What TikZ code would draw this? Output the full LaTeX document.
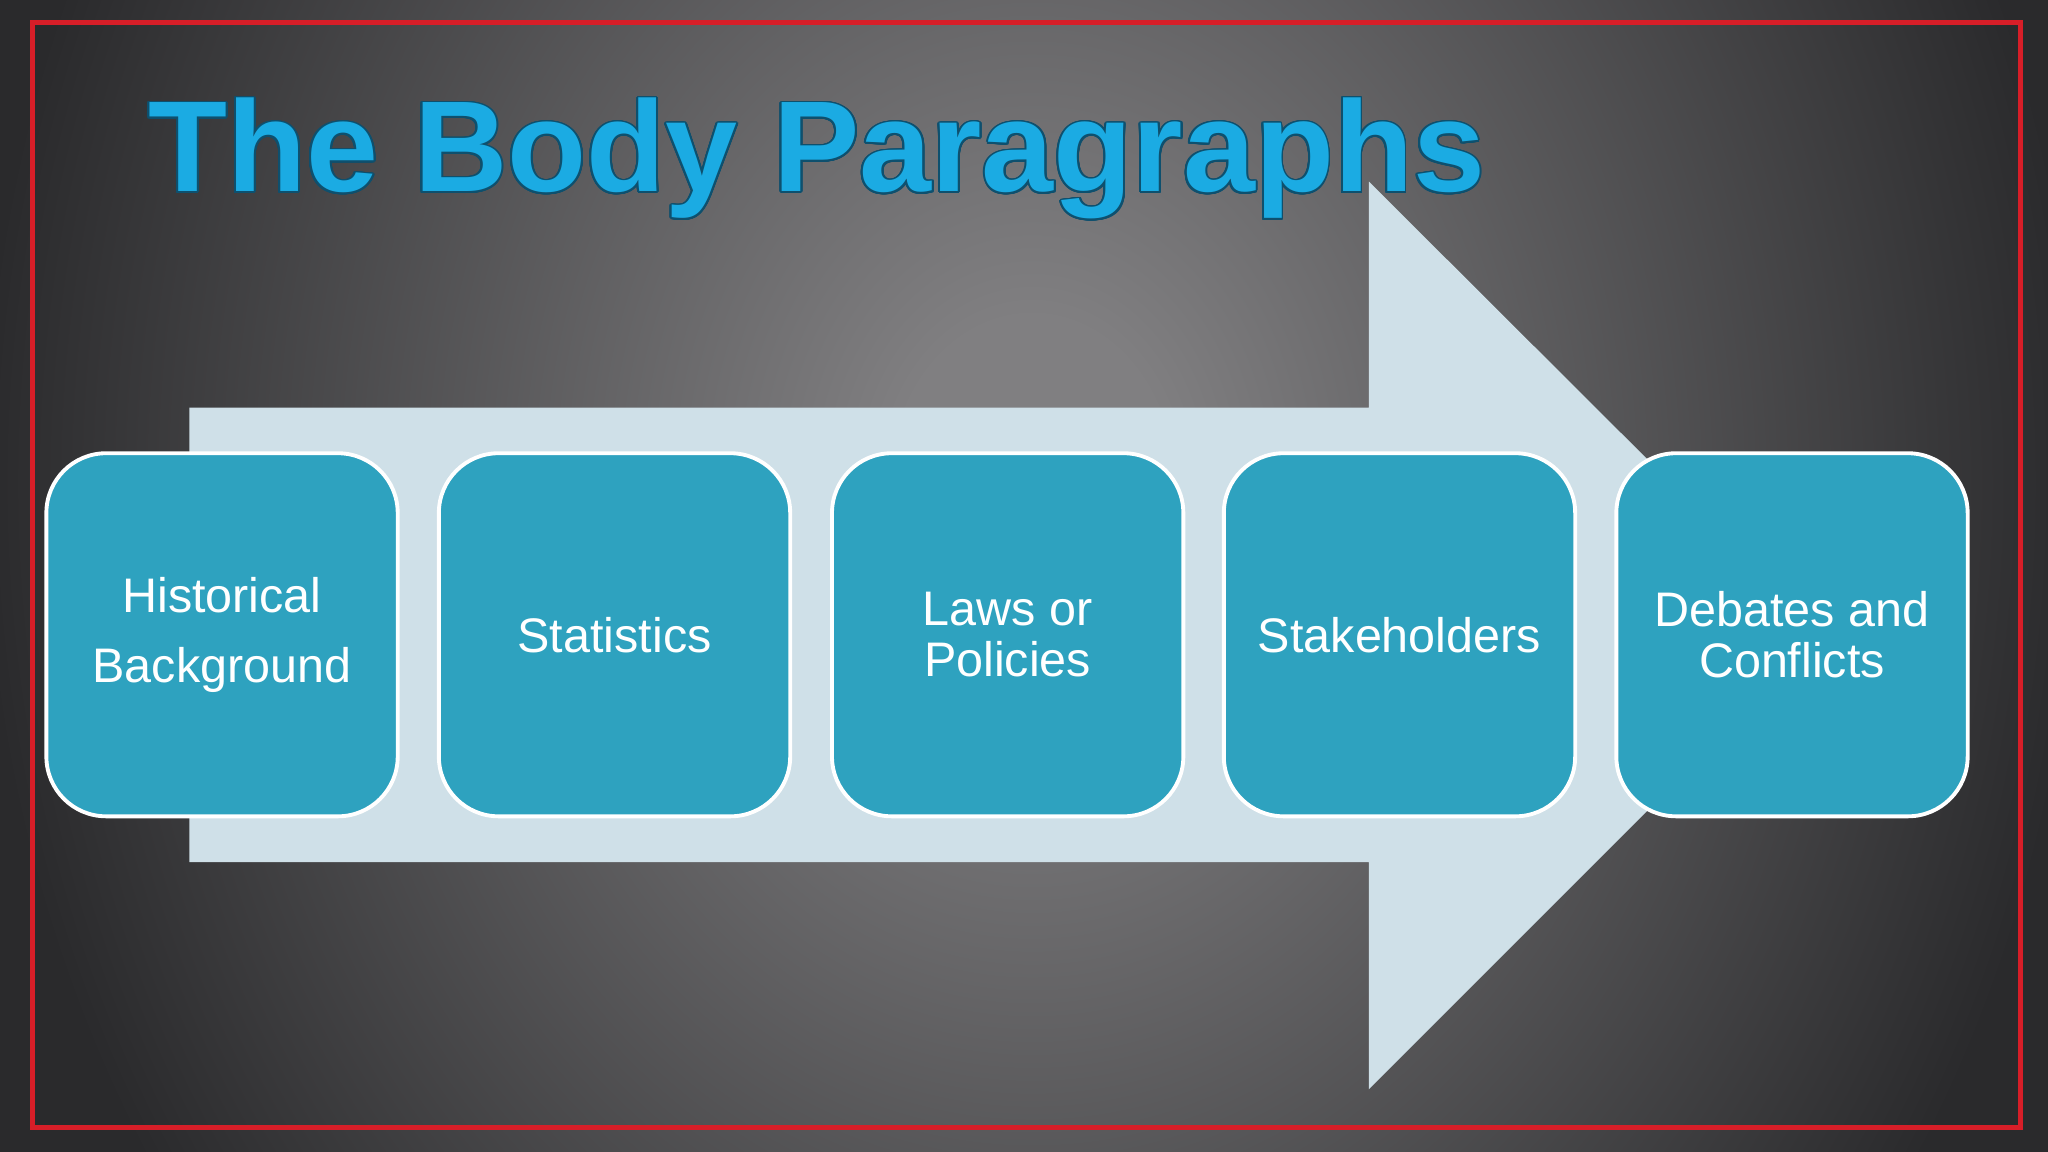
\documentclass[tikz,border=0pt]{standalone}
\usepackage{fontspec}
\setmainfont{Liberation Sans}
\usepackage[copies]{contour}
\contourlength{0.55pt}
\contournumber{24}
\definecolor{bgin}{RGB}{128,127,129}
\definecolor{bgout}{RGB}{42,42,44}
\definecolor{arrowc}{RGB}{207,224,232}
\definecolor{boxc}{RGB}{46,162,191}
\definecolor{titleblue}{RGB}{27,171,227}
\definecolor{titleedge}{RGB}{14,80,110}
\definecolor{framered}{RGB}{215,30,40}
\pgfdeclareradialshading{bgshade}{\pgfpoint{0bp}{0bp}}{color(0bp)=(bgin); color(3bp)=(bgin); color(23bp)=(bgout); color(50bp)=(bgout)}
\tikzset{
  itembox/.style={draw=white, line width=1.1pt, fill=boxc, rounded corners=17pt,
    minimum width=269*0.13061mm, minimum height=278*0.13061mm, inner sep=0pt,
    text=white, align=center, font=\fontsize{13.8}{14.6}\selectfont},
}
\begin{document}
\begin{tikzpicture}[x=0.013061cm, y=-0.013061cm]
\useasboundingbox (0,0) rectangle (1568,882);
\fill[bgout] (0,0) rectangle (1568,882);
\begin{scope}
  \clip (0,0) rectangle (1568,882);
  \shade[shading=bgshade] (790,370) ellipse (875 and 1050);
\end{scope}
\draw[framered, line width=1.4pt] (25,17) rectangle (1547,863);
% big arrow
\fill[arrowc] (145,312) -- (1048,312) -- (1048,139) -- (1396,486) -- (1048,834) -- (1048,660) -- (145,660) -- cycle;
% boxes
\node[itembox] (b1) at (170,486) {Historical\\[5.4pt]Background};
\node[itembox] (b2) at (470.5,486) {Statistics};
\node[itembox] (b3) at (771.5,486) {Laws or\\Policies};
\node[itembox] (b4) at (1071.5,486) {Stakeholders};
\node[itembox] (b5) at (1372,486) {Debates and\\Conflicts};
% title
\node[anchor=base west, inner sep=0pt, text=titleblue, font=\fontsize{36.8}{40}\selectfont\bfseries] (title) at (113,147) {\contour{titleedge}{The Body Paragraphs}};
\end{tikzpicture}
\end{document}
